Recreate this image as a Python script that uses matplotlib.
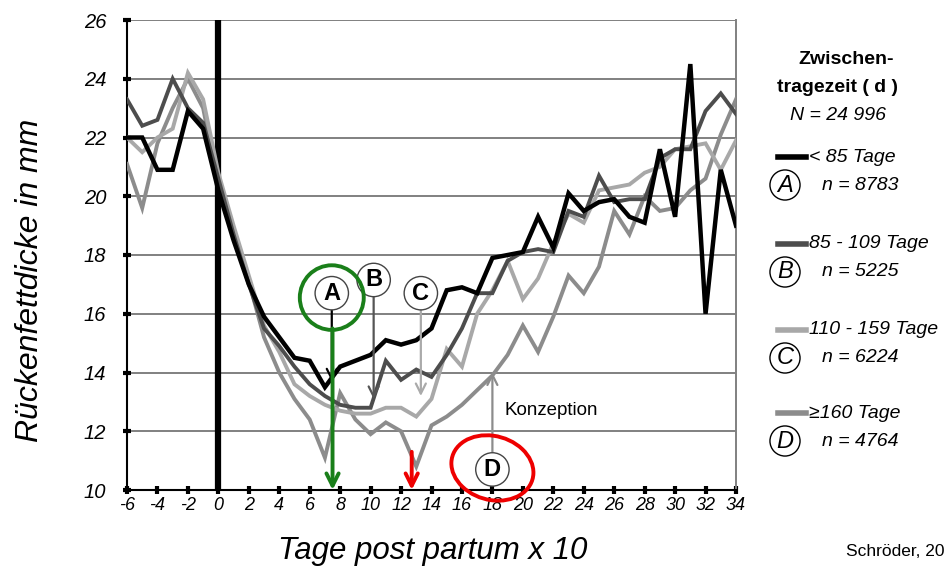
import matplotlib
matplotlib.use("Agg")
import matplotlib.pyplot as plt
from matplotlib.lines import Line2D
from matplotlib.patches import Ellipse

plt.rcParams["font.family"] = ["Liberation Sans", "DejaVu Sans"]
plt.rcParams["axes.unicode_minus"] = False

# Tage post partum x 10
days = list(range(-6, 35))

# Rückenfettdicke (mm) je Gruppe der Zwischentragezeit
fat_a = [22.0, 22.0, 20.9, 20.9, 22.9, 22.3, 20.2, 18.5, 17.0, 15.9, 15.2, 14.5, 14.4, 13.5,
         14.2, 14.4, 14.6, 15.1, 14.95, 15.1, 15.5, 16.8, 16.9, 16.7, 17.9, 18.0, 18.1, 19.3,
         18.25, 20.1, 19.5, 19.8, 19.9, 19.3, 19.1, 21.6, 19.3, 24.5, 16.0, 20.9, 19.0]
fat_b = [23.3, 22.4, 22.6, 24.0, 23.0, 22.5, 20.6, 18.7, 17.0, 15.5, 14.9, 14.2, 13.6, 13.2,
         12.9, 12.8, 12.8, 14.4, 13.75, 14.1, 13.85, 14.6, 15.5, 16.7, 16.7, 17.8, 18.1, 18.2,
         18.1, 19.5, 19.3, 20.7, 19.8, 19.9, 19.9, 21.3, 21.6, 21.6, 22.9, 23.5, 22.8]
fat_c = [22.0, 21.5, 22.0, 22.3, 24.2, 23.3, 20.8, 19.0, 17.3, 15.6, 14.7, 13.6, 13.2, 12.9,
         12.7, 12.6, 12.6, 12.8, 12.8, 12.5, 13.1, 14.8, 14.2, 16.0, 16.8, 17.8, 16.5, 17.2,
         18.4, 19.4, 19.1, 20.2, 20.3, 20.4, 20.8, 21.0, 21.6, 21.7, 21.8, 20.9, 21.9]
fat_d = [21.1, 19.6, 21.8, 23.0, 24.0, 23.0, 20.4, 18.7, 17.1, 15.2, 14.0, 13.1, 12.4, 11.1,
         13.3, 12.4, 11.9, 12.3, 12.0, 10.8, 12.2, 12.5, 12.9, 13.4, 13.9, 14.6, 15.6, 14.7,
         15.9, 17.3, 16.7, 17.6, 19.5, 18.7, 20.0, 19.5, 19.6, 20.2, 20.6, 22.1, 23.3]

groups = ["< 85 Tage", "85 - 109 Tage", "110 - 159 Tage", "\u2265160 Tage"]
letters = ["A", "B", "C", "D"]
counts = ["n = 8783", "n = 5225", "n = 6224", "n = 4764"]
colors = ["#000000", "#4d4d4d", "#a8a8a8", "#8c8c8c"]
widths = [3.2, 2.8, 2.8, 2.8]

W, H = 953, 569


def fx(px):
    return px / W


def fy(py):
    return 1 - py / H


fig = plt.figure(figsize=(9.53, 5.69), dpi=100)
ax = fig.add_axes([fx(127), fy(490), fx(736) - fx(127), fy(20) - fy(490)])

ax.set_xlim(-6, 34)
ax.set_ylim(10, 26)
ax.set_yticks(range(10, 27, 2))
ax.set_xticks(range(-6, 35, 2))
for y in range(12, 27, 2):
    ax.axhline(y, color="#808080", lw=1.4, zorder=1)
ax.axvline(0, color="black", lw=4.5, zorder=2)

series = [fat_d, fat_c, fat_b, fat_a]
for vals, col, lw in zip(series, colors[::-1], widths[::-1]):
    ax.plot(days, vals, color=col, lw=lw, solid_joinstyle="miter", zorder=3)

ax.spines["top"].set_visible(False)
ax.spines["right"].set_color("#808080")
ax.spines["right"].set_linewidth(1.4)
ax.spines["left"].set_linewidth(1.5)
ax.spines["bottom"].set_linewidth(1.5)

ax.tick_params(axis="both", direction="inout", length=6, width=3, color="black")
ax.tick_params(axis="y", labelsize=14.5, pad=12)
ax.tick_params(axis="x", labelsize=13, pad=2)
for lab in ax.get_yticklabels():
    lab.set_fontstyle("italic")
for lab in ax.get_xticklabels():
    lab.set_fontstyle("italic")
    lab.set_family(["Liberation Sans Narrow", "Liberation Sans"])

fig.text(fx(30), fy(280), "Rückenfettdicke in mm", fontsize=23, fontstyle="italic",
         rotation=90, ha="center", va="center")
fig.text(fx(433), fy(551), "Tage post partum x 10", fontsize=22.5, fontstyle="italic",
         ha="center", va="center")

# letter markers with arrows
circ = dict(boxstyle="circle,pad=0.22", fc="white", ec="#444444", lw=1)
marks = [("A", 7.45, 16.7, 13.7, "black"),
         ("B", 10.2, 17.15, 13.1, "#555555"),
         ("C", 13.3, 16.7, 13.2, "#aaaaaa"),
         ("D", 18.0, 10.7, 14.0, "#8c8c8c")]
for let, x, y0, y1, col in marks:
    ax.annotate(let, xy=(x, y1), xytext=(x, y0), fontsize=17, fontweight="bold",
                ha="center", va="center", bbox=circ, zorder=6,
                arrowprops=dict(arrowstyle="->", color=col, lw=1.6, mutation_scale=18,
                                shrinkA=0, shrinkB=0))
ax.text(18.8, 12.7, "Konzeption", fontsize=13.5, ha="left", va="center", zorder=6)

# hand-drawn highlights
ax.add_patch(Ellipse((7.45, 16.55), 4.2, 2.2, fill=False, ec="#1a7f1a", lw=2.8, zorder=7))
ax.annotate("", xy=(7.5, 10.0), xytext=(7.5, 15.5), zorder=7, annotation_clip=False,
            arrowprops=dict(arrowstyle="->", color="#1a7f1a", lw=2.8, mutation_scale=22,
                            shrinkA=0, shrinkB=0))
ax.add_patch(Ellipse((18.0, 10.75), 5.4, 2.2, angle=-4, fill=False, ec="#ee0000", lw=2.8,
                     zorder=7, clip_on=False))
ax.annotate("", xy=(12.7, 10.0), xytext=(12.7, 11.3), zorder=7, annotation_clip=False,
            arrowprops=dict(arrowstyle="->", color="#ee0000", lw=2.8, mutation_scale=22,
                            shrinkA=0, shrinkB=0))

# legend, right of the plot
fig.text(fx(846), fy(60), "Zwischen-", fontsize=14, fontweight="bold", ha="center", va="center")
fig.text(fx(838), fy(88), "tragezeit ( d )", fontsize=14, fontweight="bold", ha="center", va="center")
fig.text(fx(838), fy(115), "N = 24 996", fontsize=14, fontstyle="italic", ha="center", va="center")
rows = [157, 244, 330, 413]
lcirc = dict(boxstyle="circle,pad=0.15", fc="white", ec="black", lw=1)
for i, py in enumerate(rows):
    fig.add_artist(Line2D([fx(778), fx(806)], [fy(py), fy(py)], color=colors[i], lw=4,
                          transform=fig.transFigure))
    fig.text(fx(809), fy(py), groups[i], fontsize=14, fontstyle="italic", ha="left", va="center")
    fig.text(fx(785), fy(py + 28), letters[i], fontsize=17, fontstyle="italic", ha="center",
             va="center", bbox=lcirc)
    fig.text(fx(822), fy(py + 28), counts[i], fontsize=14, fontstyle="italic", ha="left",
             va="center")

fig.text(fx(846), fy(551), "Schröder, 20", fontsize=12.5, ha="left", va="center")

fig.savefig("out.png", dpi=100)
